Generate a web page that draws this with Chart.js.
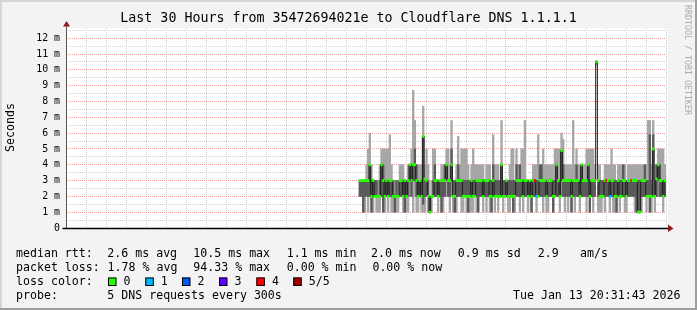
<!DOCTYPE html>
<html>
<head>
<meta charset="utf-8">
<title>Last 30 Hours from 35472694021e to Cloudflare DNS 1.1.1.1</title>
<script src="https://cdn.jsdelivr.net/npm/chart.js@4.4.1/dist/chart.umd.min.js"></script>
<style>
  html, body { margin: 0; padding: 0; background: #f3f3f3; }
  #wrap { width: 697px; height: 310px; position: relative; }
</style>
</head>
<body>
<div id="wrap"><canvas id="smokeChart"></canvas></div>
<script>
// time axis in hours counted from Mon 00:00, window ends Tue 20:31:43
const windowStart = 14.515;
const windowEnd = 44.515;
// 5 minute steps, first step starts Tue 05:10
const firstSlot = 29 + 10 / 60;
const slotHours = 5 / 60;

// rtt values in ms (sorted pings: min, 2nd, median, 4th, max)
const medianRtt = [
  3,3,3,3,3,3,4,2,3,2, 2,2,2,4,3,2,3,2,3,3, 2,2,2,2,3,3,2,3,2,3,
  4,3,4,4,3,2,3,2,5.8,3.1, 3,2,1,2,2,3,3,2,3,3, 3,3,4,3,3,4,2,2,3,3,
  3,3,2,2,2,2,2,3,2,2, 3,3,3,3,2,3,3,3,2,2, 3,2,2,2,2,4,2,2,3,2,
  2,2,2,2,3,3,3,3,2,3, 3,2,3,2,3,3,2,2,3,3, 3,3,2,3,3,3,2,2,4,3,
  2,4.9,3,3,3,3,3,2,3,3, 3,3,2,4,3,3,3,4,2,3, 3,3,10.5,3,2,2,2,3,3,3,
  2,3,3,2,2,3,2,2,3,3, 2,3,3,3,3,3,3,1,1,3, 3,3,2,2,2,2,5,2,3.1,4,
  3,3,2,3
];
const minRtt = [
  2,2,1,1,2,1,2,1,1,2, 1,1,1,2,1,1,2,1,2,1, 1,1,1,1,2,2,1,1,1,1,
  2,2,1,2,1,1,2,1,1,1, 2,1,1,1,2,2,2,1,2,1, 1,2,2,2,1,2,1,1,1,2,
  2,1,1,2,1,1,1,1,1,2, 1,1,2,2,1,2,1,2,1,1, 2,1,2,1,2,2,1,2,2,1,
  1,2,1,1,2,2,1,2,1,2, 2,1,2,1,2,2,1,2,2,2, 1,2,1,1,2,2,1,2,2,2,
  1,2,2,1,2,1,2,1,2,1, 2,2,1,2,2,2,1,2,1,2, 1,2,10.3,1,1,1,2,1,2,2,
  1,2,1,1,1,2,1,2,2,1, 1,2,2,2,2,1,1,1,1,1, 2,2,1,2,1,1,2,1,2,2,
  2,2,1,2
];
const lowRtt = [
  2,2,1,2,2,2,2,1,2,2, 2,2,2,2,1,2,2,2,2,2, 2,1,2,2,2,2,2,1,2,2,
  3,2,3,3,2,2,2,2,1.5,2, 2,2,1,2,2,2,2,2,2,1, 2,2,3,2,2,3,2,1,2,2,
  2,2,2,2,2,1,2,2,2,2, 2,1,2,2,2,2,2,2,2,1, 2,2,2,2,2,2,2,2,2,2,
  2,2,1,2,2,2,2,2,2,2, 2,2,2,1,2,2,2,2,2,2, 2,2,2,2,2,2,1,2,2,2,
  2,3,2,2,2,2,2,1,2,2, 2,2,2,2,2,2,2,2,1,2, 2,2,10.4,2,2,2,2,2,2,2,
  2,2,2,2,1,2,2,2,2,2, 2,2,2,2,2,2,1,1,1,2, 2,2,2,2,1,2,3,2,2,3,
  2,2,2,2
];
const highRtt = [
  3,3,3,3,3,3,4,3,3,3, 3,2,3,4,4,3,3,3,3,3, 3,2,3,2,3,3,3,3,3,3,
  4,4,4,5,4,3,3,3,5.8,3.1, 3,3,2,2,3,4,3,3,3,3, 3,4,4,3,3,5,3,3,3,4,
  3,3,3,3,3,3,3,3,3,3, 3,3,3,3,3,3,3,3,3,3, 4,3,3,3,3,4,3,3,3,3,
  3,3,3,3,4,3,4,3,3,3, 3,3,3,3,3,3,3,3,4,4, 3,3,3,3,3,3,3,3,4,3,
  3,4.9,4,3,3,3,3,3,3,3, 4,3,3,4,3,3,3,4,3,3, 3,3,10.5,3,3,3,3,3,3,3,
  3,3,3,3,3,3,3,3,4,3, 3,3,3,3,3,3,3,3,3,3, 3,4,3,3,5.9,3,5.9,3,4,4,
  4,3,3,3
];
const maxRtt = [
  3,3,3,3,4,5,6,4,3,3, 3,3,4,5,5,5,5,5,5.9,4, 3,3,3,3,4,4,4,3,3,4,
  4,5,8.7,6.8,4,4,4,4,7.7,4, 5,4,2,3,5,5,3,3,3,4, 4,4,5,5,4,6.8,3,3,4,5.8,
  4,5,5,5,5,4,3,4,5,4, 4,4,4,4,4,3,4,4,4,3, 5.9,4,4,4,3,6.8,3,3,3,3,
  4,5,5,3,5,4,4,5,5,6.8, 3,3,3,3,4,4,4,5.9,4,4, 5,4,4,4,4,4,4,5,5,5,
  5,6,5.6,4,4,4,4,4,6.8,4, 5,4,4,4,4,4,5,5,5,5, 5,4,10.6,4,4,3,3,4,4,4,
  4,5,4,4,3,4,4,4,4,4, 3,4,4,4,4,4,4,4,4,4, 4,4,4,6.8,6.8,4,6.8,4,4,5,
  5,5,5,4
];

// steps that lost pings (index into the arrays above) and how many were lost
const lossSlots = [105, 106, 148, 150, 163];
const lossCounts = [4, 1, 4, 1, 4];

const lossColors = ['#26ff00', '#00b8ff', '#0059ff', '#5e00ff', '#ff0000', '#a10000'];
const lossLabels = ['0', '1', '2', '3', '4', '5/5'];

const titleText = 'Last 30 Hours from 35472694021e to Cloudflare DNS 1.1.1.1';
const summaryRtt = [['median rtt:', 16], ['2.6 ms avg', 107.3], ['10.5 ms max', 193.3],
  ['1.1 ms min', 286.7], ['2.0 ms now', 371], ['0.9 ms sd', 457.8], ['2.9', 537.8], ['am/s', 580]];
const summaryLoss = [['packet loss:', 16], ['1.78 % avg', 107.6], ['94.33 % max', 193.3],
  ['0.00 % min', 286.7], ['0.00 % now', 372.4]];
const lossLegendX = [108, 145.3, 182, 219, 256.4, 293.3];
const probeText = '5 DNS requests every 300s';
const stampText = 'Tue Jan 13 20:31:43 2026';

const monoFont = '"DejaVu Sans Mono", "Liberation Mono", monospace';

function slotX(i) {
  return firstSlot + i * slotHours + slotHours / 2;
}

function lossOf(i) {
  const pos = lossSlots.indexOf(i);
  return pos < 0 ? 0 : lossCounts[pos];
}

const outerSmoke = maxRtt.map((v, i) => ({ x: slotX(i), y: [minRtt[i], v] }));
const innerSmoke = highRtt.map((v, i) => ({ x: slotX(i), y: [lowRtt[i], v] }));
const medianLine = medianRtt.map((v, i) => ({ x: slotX(i), y: v }));
const medianMarks = medianRtt.map((v, i) => ({ x: slotX(i), y: [v - 0.07, v + 0.07] }));

function hourLabel(h) {
  const day = h < 24 ? 'Mon' : 'Tue';
  const hh = String(h % 24).padStart(2, '0');
  return day + ' ' + hh + ':00';
}

const rrdFrame = {
  id: 'rrdFrame',
  beforeDraw(chart) {
    const { ctx, chartArea: a, width: w, height: h } = chart;
    ctx.save();
    ctx.fillStyle = '#f3f3f3';
    ctx.fillRect(0, 0, w, h);
    ctx.fillStyle = '#d6d6d6';
    ctx.fillRect(0, 0, w, 2);
    ctx.fillRect(0, 0, 2, h);
    ctx.fillStyle = '#9e9e9e';
    ctx.fillRect(0, h - 2, w, 2);
    ctx.fillRect(w - 2, 0, 2, h);
    ctx.fillStyle = '#ffffff';
    ctx.fillRect(a.left, a.top, a.right - a.left + 2, a.bottom - a.top);
    ctx.restore();
  },
  afterDraw(chart) {
    const { ctx, chartArea: a } = chart;
    ctx.save();

    // axes
    ctx.strokeStyle = '#555555';
    ctx.lineWidth = 1;
    ctx.beginPath();
    ctx.moveTo(a.left + 0.5, a.bottom + 1);
    ctx.lineTo(a.left + 0.5, a.top - 5);
    ctx.stroke();
    ctx.strokeStyle = '#000000';
    ctx.lineWidth = 1.5;
    ctx.beginPath();
    ctx.moveTo(a.left - 3.5, a.bottom + 0.5);
    ctx.lineTo(a.right + 3, a.bottom + 0.5);
    ctx.stroke();

    // arrows
    ctx.fillStyle = '#8e1b1b';
    ctx.beginPath();
    ctx.moveTo(a.left - 3, a.top - 1.5);
    ctx.lineTo(a.left + 4, a.top - 1.5);
    ctx.lineTo(a.left + 0.5, a.top - 7);
    ctx.closePath();
    ctx.fill();
    ctx.beginPath();
    ctx.moveTo(a.right + 2, a.bottom - 3.5);
    ctx.lineTo(a.right + 2, a.bottom + 4);
    ctx.lineTo(a.right + 7.5, a.bottom + 0.5);
    ctx.closePath();
    ctx.fill();

    // title and axis captions
    ctx.fillStyle = '#000000';
    ctx.textBaseline = 'middle';
    ctx.textAlign = 'center';
    ctx.font = '13.3px ' + monoFont;
    ctx.fillText(titleText, 348.5, 19);

    ctx.font = '11.6px ' + monoFont;
    ctx.save();
    ctx.translate(11, 127.5);
    ctx.rotate(-Math.PI / 2);
    ctx.fillText('Seconds', 0, 0);
    ctx.restore();

    ctx.save();
    ctx.fillStyle = '#ababab';
    ctx.font = '8.3px ' + monoFont;
    ctx.translate(687, 60);
    ctx.rotate(Math.PI / 2);
    ctx.fillText('RRDTOOL / TOBI OETIKER', 0, 0);
    ctx.restore();

    // legend block
    ctx.textAlign = 'left';
    ctx.font = '11.6px ' + monoFont;
    summaryRtt.forEach(([t, x]) => ctx.fillText(t, x, 254));
    summaryLoss.forEach(([t, x]) => ctx.fillText(t, x, 268));
    ctx.fillText('loss color:', 16, 282);
    lossLegendX.forEach((x, i) => {
      ctx.fillStyle = lossColors[i];
      ctx.fillRect(x, 277.5, 8, 8);
      ctx.strokeStyle = '#000000';
      ctx.lineWidth = 1;
      ctx.strokeRect(x + 0.5, 278, 7.5, 7.5);
      ctx.fillStyle = '#000000';
      ctx.fillText(lossLabels[i], x + 15.5, 282);
    });
    ctx.fillText('probe:', 16, 296.3);
    ctx.fillText(probeText, 107.3, 296.3);
    ctx.textAlign = 'right';
    ctx.fillText(stampText, 680.5, 296.3);

    ctx.restore();
  }
};

const minorGrid = '#cfcfcf';
const majorGrid = '#f0a0a0';

new Chart(document.getElementById('smokeChart'), {
  type: 'bar',
  data: {
    datasets: [
      {
        type: 'bar',
        data: medianMarks,
        backgroundColor: (c) => lossColors[lossOf(c.dataIndex)],
        order: 1
      },
      {
        type: 'line',
        data: medianLine,
        stepped: 'middle',
        borderColor: '#1c1c1c',
        borderWidth: 1,
        pointRadius: 0,
        order: 2
      },
      {
        type: 'bar',
        data: innerSmoke,
        backgroundColor: '#5a5a5a',
        order: 3
      },
      {
        type: 'bar',
        data: outerSmoke,
        backgroundColor: '#a6a6a6',
        order: 4
      }
    ]
  },
  options: {
    responsive: true,
    maintainAspectRatio: false,
    animation: false,
    events: [],
    layout: { padding: { top: 28, right: 31, left: 0, bottom: 0 } },
    datasets: {
      bar: { grouped: false, barPercentage: 1, categoryPercentage: 1, borderWidth: 0 }
    },
    plugins: {
      legend: { display: false },
      title: { display: false },
      tooltip: { enabled: false }
    },
    scales: {
      x: {
        type: 'linear',
        min: windowStart,
        max: windowEnd,
        offset: false,
        afterFit: (scale) => { scale.height = 82; },
        grid: {
          offset: false,
          drawTicks: false,
          borderDash: [1, 1],
          color: (c) => (c.tick && c.tick.value % 3 === 0 ? majorGrid : minorGrid)
        },
        border: { display: false, dash: [1, 1] },
        ticks: {
          stepSize: 1,
          includeBounds: false,
          autoSkip: false,
          maxRotation: 0,
          padding: 5,
          color: '#000000',
          font: { family: monoFont, size: 9.9 },
          callback: (v) => (v % 6 === 0 ? hourLabel(v) : '')
        }
      },
      y: {
        min: 0,
        max: 12.65,
        afterFit: (scale) => { scale.width = 66; },
        grid: {
          drawTicks: false,
          borderDash: [1, 1],
          color: (c) => (c.tick && Number.isInteger(c.tick.value) ? majorGrid : minorGrid)
        },
        border: { display: false, dash: [1, 1] },
        ticks: {
          stepSize: 0.5,
          includeBounds: false,
          autoSkip: false,
          padding: 6,
          color: '#000000',
          font: { family: monoFont, size: 9.9 },
          callback: (v) => (Number.isInteger(v) ? (v === 0 ? '0' : v + ' m') : '')
        }
      }
    }
  },
  plugins: [rrdFrame]
});
</script>
</body>
</html>
